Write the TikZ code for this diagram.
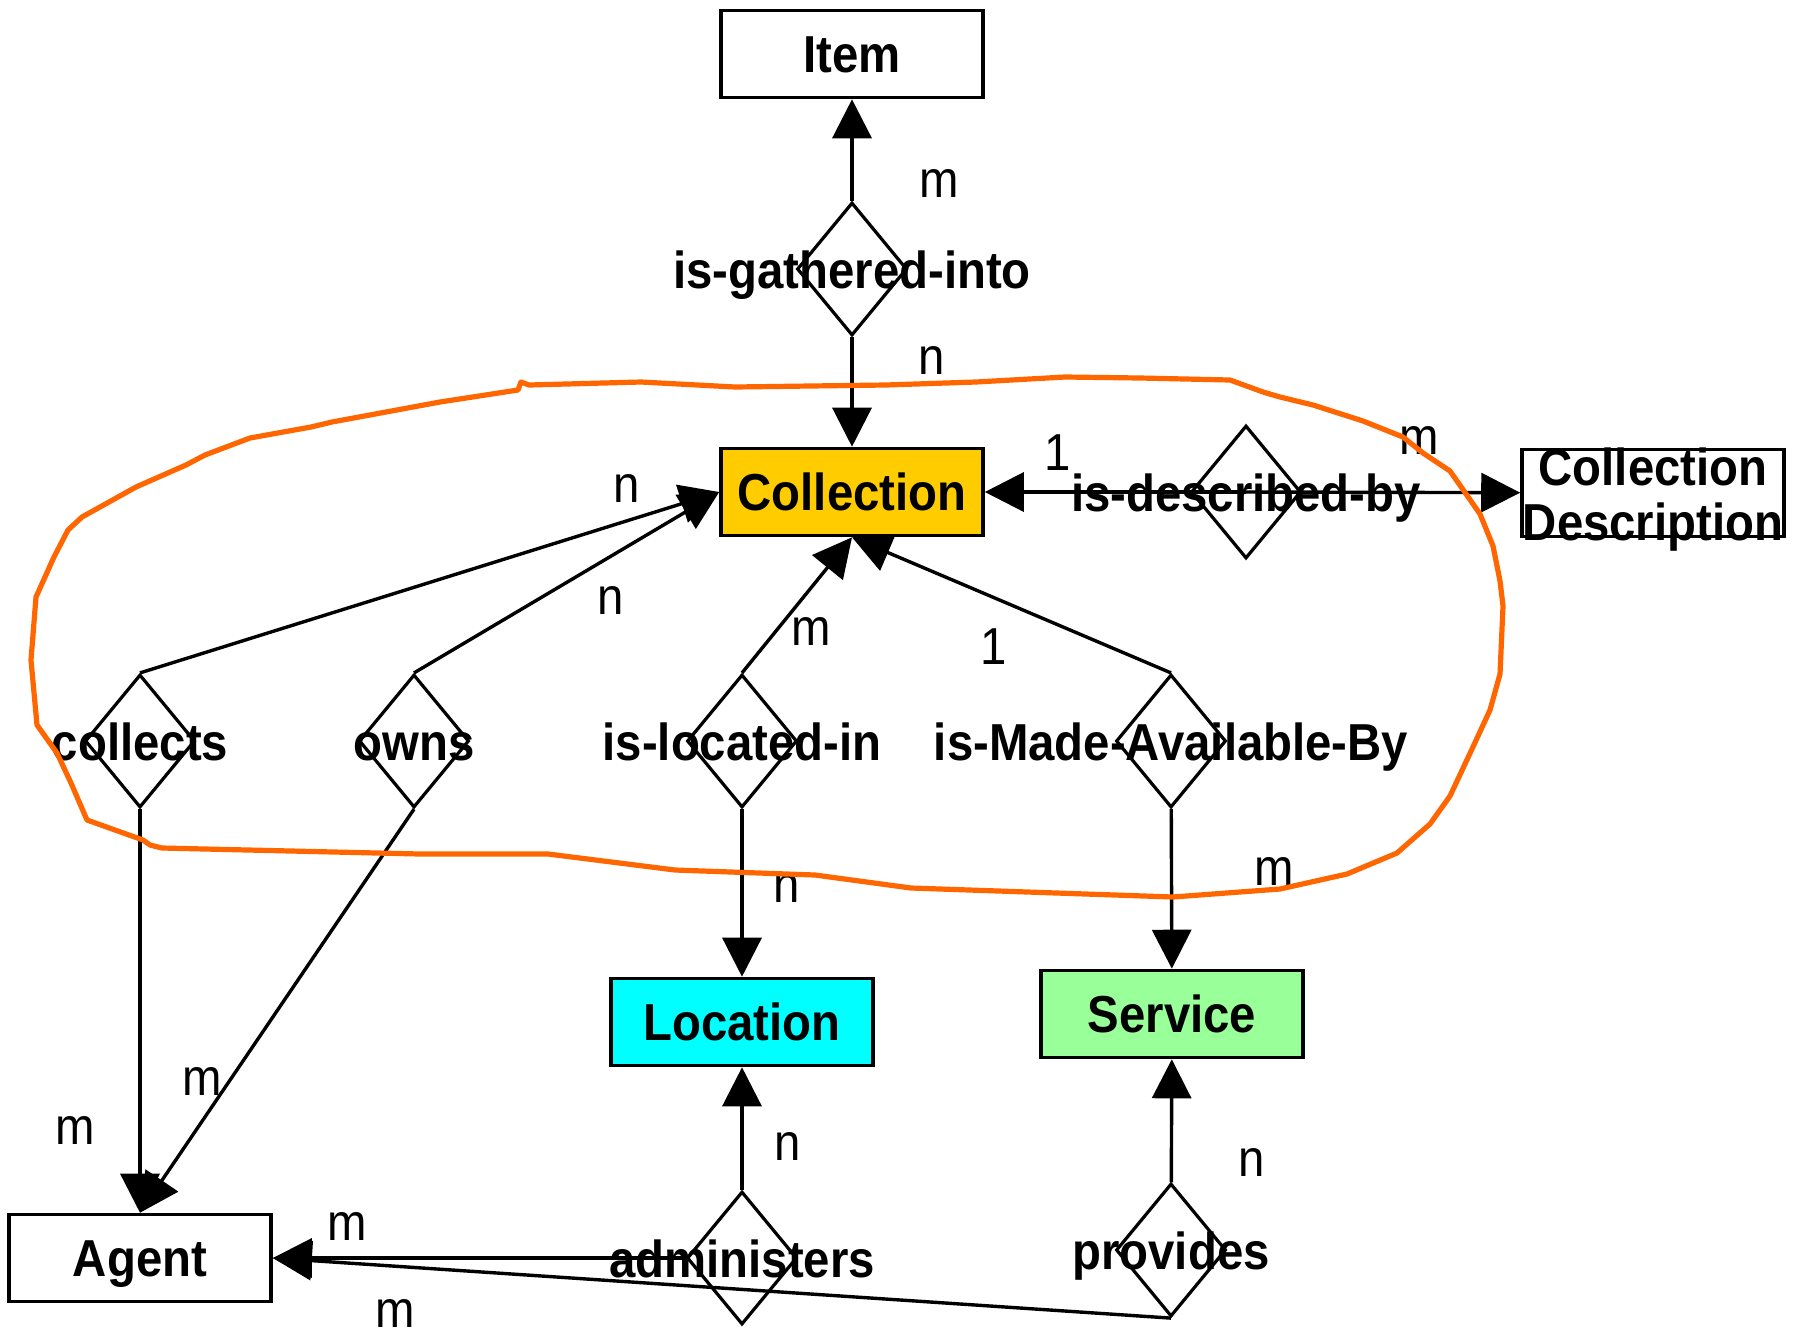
\documentclass[tikz,border=0pt]{standalone}
\usepackage{fontspec}
\setmainfont[FakeStretch=0.91]{Liberation Sans}
\usepackage{tikz}
\usetikzlibrary{shapes,arrows.meta}

\definecolor{collgold}{HTML}{FFCC00}
\definecolor{loccyan}{HTML}{00FFFF}
\definecolor{servgreen}{HTML}{99FF99}
\definecolor{penorange}{HTML}{FF6600}

\tikzset{
	entity/.style={draw, line width=1.8pt, minimum width=131pt, minimum height=43.5pt, inner sep=0pt, text height=18.5pt, text depth=0pt, font=\fontsize{26}{30}\selectfont\bfseries},
	rel/.style={diamond, draw, line width=1.6pt, minimum width=55pt, minimum height=66.5pt, inner sep=0pt},
	reltext/.style={font=\fontsize{26}{27.5}\selectfont\bfseries, inner sep=0pt, text height=19pt, text depth=0pt},
	card/.style={font=\fontsize{26}{30}\selectfont, inner sep=0pt},
	link/.style={line width=1.7pt, -{Triangle[length=19.5pt,width=19.5pt]}}
}

\begin{document}
\begin{tikzpicture}[x=0.5pt, y=-0.5pt]
	\useasboundingbox (0,0) rectangle (1802,1339);

	% entities
	\node [entity] (item) at (852,54) {Item};
	\node [entity, fill=collgold] (coll) at (852,492) {Collection};
	\node [entity] (cdesc) at (1653,493) {};
	\node [font=\fontsize{26}{27.5}\selectfont\bfseries, inner sep=0pt, align=center] (cdesctext) at (1653,500) {Collection\\Description};
	\node [entity, fill=loccyan] (loc) at (742,1022) {Location};
	\node [entity, fill=servgreen] (serv) at (1172,1014) {Service};
	\node [entity] (agent) at (140,1258) {Agent};

	% relationships
	\node [rel, label={[reltext]center:is-gathered-into}] (gath) at (852,269) {};
	\node [rel, label={[reltext]center:is-described-by}] (descr) at (1246,492) {};
	\node [rel, label={[reltext]center:collects}] (colls) at (140,741) {};
	\node [rel, label={[reltext]center:owns}] (owns) at (414,741) {};
	\node [rel, label={[reltext]center:is-located-in}] (locin) at (742,741) {};
	\node [rel, label={[reltext]center:is-Made-Available-By}] (avail) at (1171,741) {};
	\node [rel, label={[reltext]center:administers}] (admin) at (742,1258) {};
	\node [rel, label={[reltext]center:provides}] (prov) at (1171,1250) {};

	\draw [link] (gath) -- (item);
	\draw [link] (gath) -- (coll);
	\draw [link] (descr.center) -- (coll);
	\draw [link] (descr.center) -- (cdesc);
	\draw [link] (colls.north) -- (coll.west);
	\draw [link] (owns.north) -- (coll.west);
	\draw [link] (locin.north) -- (coll.south);
	\draw [link] (avail.north) -- (coll.south);
	\draw [link] (colls.south) -- (agent.north);
	\draw [link] (owns.south) -- (agent.north);
	\draw [link] (locin) -- (loc);
	\draw [link] (avail) -- (serv);
	\draw [link] (admin) -- (loc);
	\draw [link] (prov) -- (serv);
	\draw [link] (admin.west) -- (agent.east);
	\draw [link] (prov.south) -- (agent.east);

	% cardinalities
	\node [card] (c1) at (939,184) {m};
	\node [card] (c2) at (932,361) {n};
	\node [card] (c3) at (1058,453) {1};
	\node [card] (c4) at (1419,440) {m};
	\node [card] (c5) at (627,488) {n};
	\node [card] (c6) at (611,600) {n};
	\node [card] (c7) at (811,631) {m};
	\node [card] (c8) at (994,647) {1};
	\node [card] (c9) at (787,888) {n};
	\node [card] (c10) at (1274,871) {m};
	\node [card] (c11) at (202,1081) {m};
	\node [card] (c12) at (75,1130) {m};
	\node [card] (c13) at (788,1146) {n};
	\node [card] (c14) at (1252,1162) {n};
	\node [card] (c15) at (347,1226) {m};
	\node [card] (c16) at (395,1313) {m};

	% hand drawn loop
	\draw [penorange, line width=2.6pt, line join=round, line cap=round]
		(518,390) -- (521,382) -- (529,385) -- (641,382) -- (735,387) -- (886,385) -- (976,382)
		-- (1065,377) -- (1140,378) -- (1230,380) -- (1263,392) -- (1280,397) -- (1313,405)
		-- (1363,421) -- (1403,437) -- (1423,453) -- (1450,471) -- (1480,514) -- (1493,546)
		-- (1500,581) -- (1503,606) -- (1500,674) -- (1490,710) -- (1472,749) -- (1450,796)
		-- (1430,824) -- (1397,853) -- (1347,874) -- (1280,889) -- (1213,894) -- (1173,897)
		-- (911,888) -- (815,875) -- (675,870) -- (548,854) -- (420,854) -- (162,848)
		-- (150,845) -- (143,840) -- (87,820) -- (71,783) -- (57,753) -- (37,725) -- (31,660)
		-- (36,597) -- (54,557) -- (68,530) -- (82,517) -- (136,487) -- (186,465) -- (205,455)
		-- (250,438) -- (311,427) -- (332,422) -- (440,402) -- cycle;

\end{tikzpicture}
\end{document}
